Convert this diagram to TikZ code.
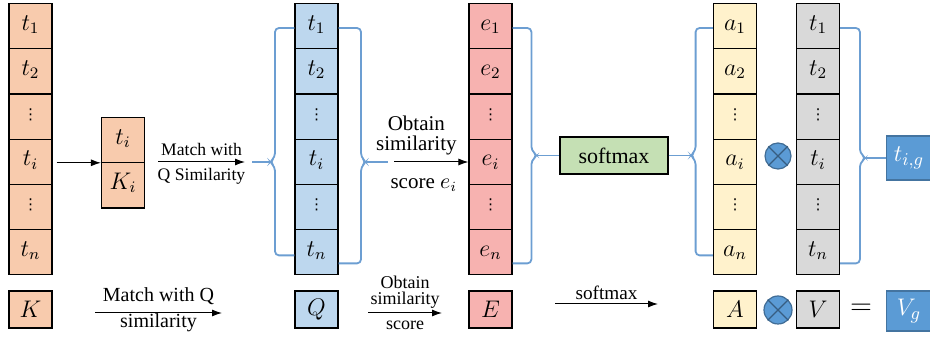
\documentclass[tikz,border=0pt]{standalone}
\usepackage{amsmath,amssymb}
\usepackage{fontspec}
\setmainfont{Liberation Serif}
\newfontfamily\symfont{DejaVu Sans}
\usetikzlibrary{positioning, arrows.meta, calc, shapes.multipart}
\definecolor{orangeg}{RGB}{248,203,173}
\definecolor{blueg}{RGB}{189,215,238}
\definecolor{redg}{RGB}{247,178,176}
\definecolor{yellowg}{RGB}{255,242,204}
\definecolor{grayg}{RGB}{217,217,217}
\definecolor{greeng}{RGB}{197,224,180}
\definecolor{darkb}{RGB}{91,155,213}
\definecolor{braceb}{RGB}{108,158,210}
\newcommand{\cs}{\rule[-6pt]{0pt}{16pt}}
\newcommand{\vd}{\smash{\raisebox{0.5pt}{\symfont\fontsize{7.5}{8}\selectfont ⋮}}}
\newcommand{\tokcol}[4]{\cs$#1$\nodepart{two}\cs$#2$\nodepart{three}\cs\vd
  \nodepart{four}\cs$#3$\nodepart{five}\cs\vd\nodepart{six}\cs$#4$}

\begin{document}
\begin{tikzpicture}[x=0.5pt, y=-0.5pt,
    ->/.style={-{Latex[length=5pt, width=3.5pt]}, line width=0.5pt},
    col/.style={rectangle split, rectangle split parts=6, draw, line width=0.6pt,
      minimum width=21.5pt, inner xsep=2pt, inner ysep=3pt, anchor=north,
      font=\fontsize{11.5}{13}\selectfont},
    pair/.style={col, rectangle split parts=2},
    sbox/.style={draw, line width=0.6pt, minimum width=21.5pt, minimum height=18.5pt,
      inner sep=1pt, font=\large},
    gbox/.style={draw=darkb!75!black, fill=darkb, text=white, line width=0.6pt,
      minimum width=22.5pt, inner sep=1pt, font=\fontsize{12.5}{14}\selectfont},
    otimes/.style={circle, draw=darkb!70!black, fill=darkb, line width=0.6pt,
      minimum size=13pt, inner sep=0pt},
    brace/.style={draw=braceb, line width=0.9pt, rounded corners=2pt},
    link/.style={draw=braceb, line width=0.9pt},
    tlab/.style={font=\fontsize{8.8}{10}\selectfont, inner sep=1pt},
    mlab/.style={font=\fontsize{10.5}{10}\selectfont, inner sep=1pt, align=center},
    blab/.style={font=\fontsize{10}{11}\selectfont, inner sep=1pt},
    slab/.style={font=\fontsize{9}{8}\selectfont, inner sep=1pt, align=center}]
  \useasboundingbox (0,0) rectangle (930,340);

  % top row: columns of tokens
  \node [col, fill=orangeg] (tcol) at (30.5,3) {\tokcol{t_1}{t_2}{t_i}{t_n}};
  \node [pair, fill=orangeg] (kpair) at (123,117) {\cs$t_i$\nodepart{two}\cs$K_i$};
  \node [col, fill=blueg] (qcol) at (316.5,3) {\tokcol{t_1}{t_2}{t_i}{t_n}};
  \node [col, fill=redg] (ecol) at (490.5,3) {\tokcol{e_1}{e_2}{e_i}{e_n}};
  \node [draw, fill=greeng, line width=0.6pt, minimum width=54pt, minimum height=18.5pt,
    font=\fontsize{11}{13}\selectfont] (smax) at (614,155.5) {softmax};
  \node [col, fill=yellowg] (acol) at (735,3) {\tokcol{a_1}{a_2}{a_i}{a_n}};
  \node [otimes] (ot1) at (778,156) {};
  \node [col, fill=grayg] (vcol) at (818,3) {\tokcol{t_1}{t_2}{t_i}{t_n}};
  \node [gbox, minimum height=22pt] (tig) at (909,158) {$t_{i,g}$};

  % bottom row: matrices
  \node [sbox, fill=orangeg] (K) at (30.5,309.5) {$K$};
  \node [sbox, fill=blueg] (Q) at (316.5,309.5) {$Q$};
  \node [sbox, fill=redg] (E) at (490.5,309.5) {$E$};
  \node [sbox, fill=yellowg] (A) at (735,309.5) {$A$};
  \node [otimes, minimum size=14pt] (ot2) at (778,310) {};
  \node [sbox, fill=grayg] (V) at (818,309.5) {$V$};
  \node [font=\Large] (eq) at (861,309) {$=$};
  \node [gbox, minimum height=20pt] (Vg) at (909,311) {$V_g$};

  \foreach \o in {ot1, ot2}
    \draw [darkb!60!black, line width=0.6pt] (\o.north west) -- (\o.south east)
      (\o.north east) -- (\o.south west);

  % arrows and braces, top row
  \coordinate (m0s) at (158,162);
  \coordinate (m0e) at (245,162);
  \coordinate (qin) at (252,162);
  \coordinate (qtipL) at (270,162);
  \coordinate (qtipR) at (366,162);
  \coordinate (qout) at (388,162);
  \coordinate (o1s) at (394,162);
  \coordinate (etip) at ($(smax.west)+(-22,0)$);
  \coordinate (atip) at ($(smax.east)+(22,0)$);
  \coordinate (vtip) at ($(tig.west)+(-20,0)$);

  \draw [->, shorten <=2pt] (tcol.east |- kpair.west) -- (kpair.west);
  \draw [->] (m0s) -- (m0e) node [midway, above=2pt, tlab] {Match with}
    node [midway, below=2pt, tlab] {Q Similarity};
  \draw [link] (qin) -- (qtipL);
  \draw [brace] ($(qcol.north west)+(0,25)$) -| ($(qtipL)+(5,-5)$) -- (qtipL)
    -- ++(5,5) |- ($(qcol.south west)+(0,-20)$);
  \draw [brace] ($(qcol.north east)+(0,25)$) -| ($(qtipR)+(-5,-5)$) -- (qtipR)
    -- ++(-5,5) |- ($(qcol.south east)+(0,-12)$);
  \draw [link] (qtipR) -- (qout);
  \draw [->] (o1s) -- (ecol.west |- o1s)
    node [pos=0.3, above=2pt, mlab] {Obtain\\similarity}
    node [pos=0.4, below=7pt, mlab] {score $e_i$};
  \draw [brace] ($(ecol.north east)+(0,25)$) -| ($(etip)+(-6,-5)$) -- (etip)
    -- ++(-6,5) |- ($(ecol.south east)+(0,-12)$);
  \draw [link] (etip) -- (smax);
  \draw [link] (smax) -- (atip);
  \draw [brace] ($(acol.north west)+(0,25)$) -| ($(atip)+(5,-5)$) -- (atip)
    -- ++(5,5) |- ($(acol.south west)+(0,-20)$);
  \draw [brace] ($(vcol.north east)+(0,25)$) -| ($(vtip)+(-6,-5)$) -- (vtip)
    -- ++(-6,5) |- ($(vcol.south east)+(0,-12)$);
  \draw [link] (vtip) -- (tig);

  % arrows, bottom row
  \coordinate (m1s) at (95,313);
  \coordinate (m1e) at (222,313);
  \coordinate (o2s) at (368,313);
  \coordinate (o2e) at (442,313);
  \coordinate (s2s) at (555,304);
  \coordinate (s2e) at (658,304);
  \draw [->] (m1s) -- (m1e) node [midway, above=3pt, blab] {Match with Q}
    node [midway, below=-1pt, blab] {similarity};
  \draw [->] (o2s) -- (o2e) node [midway, above=1pt, slab] {Obtain\\similarity}
    node [midway, below=3pt, slab] {score};
  \draw [->] (s2s) -- (s2e) node [midway, above=1pt, blab, font=\fontsize{9.6}{11}\selectfont] {softmax};
\end{tikzpicture}
\end{document}
